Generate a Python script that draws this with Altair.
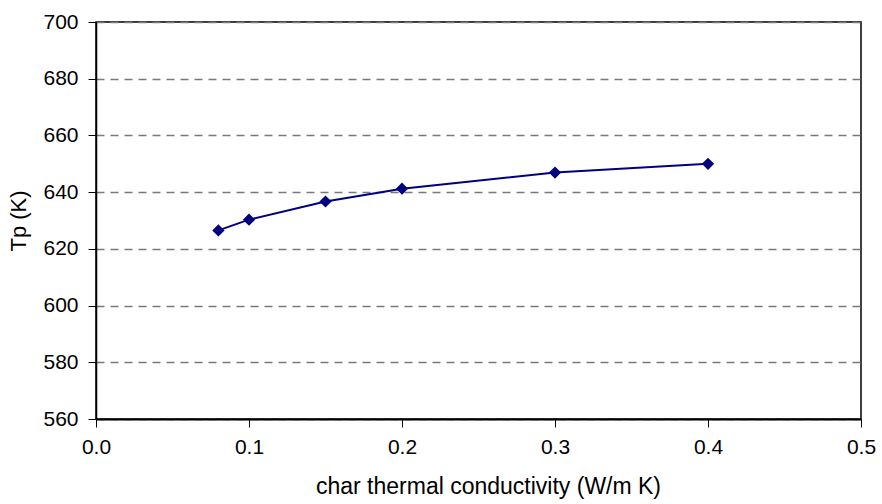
import altair as alt
import pandas as pd

conductivity = [0.08, 0.10, 0.15, 0.20, 0.30, 0.40]
tp = [626.5, 630.3, 636.7, 641.2, 646.9, 650.0]
x_ticks = [0.0, 0.1, 0.2, 0.3, 0.4, 0.5]
y_ticks = [560, 580, 600, 620, 640, 660, 680, 700]

df = pd.DataFrame({"k": conductivity, "tp": tp})

FONT = "Liberation Sans"

x = alt.X(
    "k:Q",
    scale=alt.Scale(domain=[0, 0.5], nice=False, zero=False),
    axis=alt.Axis(
        title="char thermal conductivity (W/m K)",
        values=x_ticks,
        format=".1f",
        grid=False,
        domainColor="black",
        domainWidth=2,
        tickColor="black",
        tickWidth=1,
        tickSize=8,
        labelPadding=9,
        labelFontSize=21,
        labelFont=FONT,
        labelColor="black",
        titleFont=FONT,
        titleFontSize=23,
        titleFontWeight="normal",
        titleColor="black",
        titlePadding=18,
        titleX=392,
        labelFlush=False,
    ),
)
y = alt.Y(
    "tp:Q",
    scale=alt.Scale(domain=[560, 700], nice=False, zero=False),
    axis=alt.Axis(
        title="Tp (K)",
        values=y_ticks,
        format="d",
        grid=True,
        gridColor="#7a7a7a",
        gridDash=[8, 6],
        gridWidth=1.5,
        domainColor="black",
        domainWidth=1.5,
        tickColor="black",
        tickWidth=1,
        tickSize=8,
        labelPadding=10,
        labelFontSize=21,
        labelFont=FONT,
        labelColor="black",
        titleFont=FONT,
        titleFontSize=22,
        titleFontWeight="normal",
        titleColor="black",
        titlePadding=12,
        labelFlush=False,
    ),
)

line = alt.Chart(df).mark_line(color="#000080", strokeWidth=2).encode(x=x, y=y)
pts = alt.Chart(df).mark_point(
    shape="diamond", filled=True, size=150, color="#000080", opacity=1
).encode(x=x, y=y)

chart = (
    alt.layer(line, pts)
    .properties(
        width=765,
        height=397,
        autosize=alt.AutoSizeParams(type="none"),
        padding={"left": 96, "top": 22, "right": 21, "bottom": 85},
        background="white",
    )
    .configure_view(stroke="black", strokeWidth=1.5)
)

chart.save("out.html", embed_options={"renderer": "svg", "actions": False})
